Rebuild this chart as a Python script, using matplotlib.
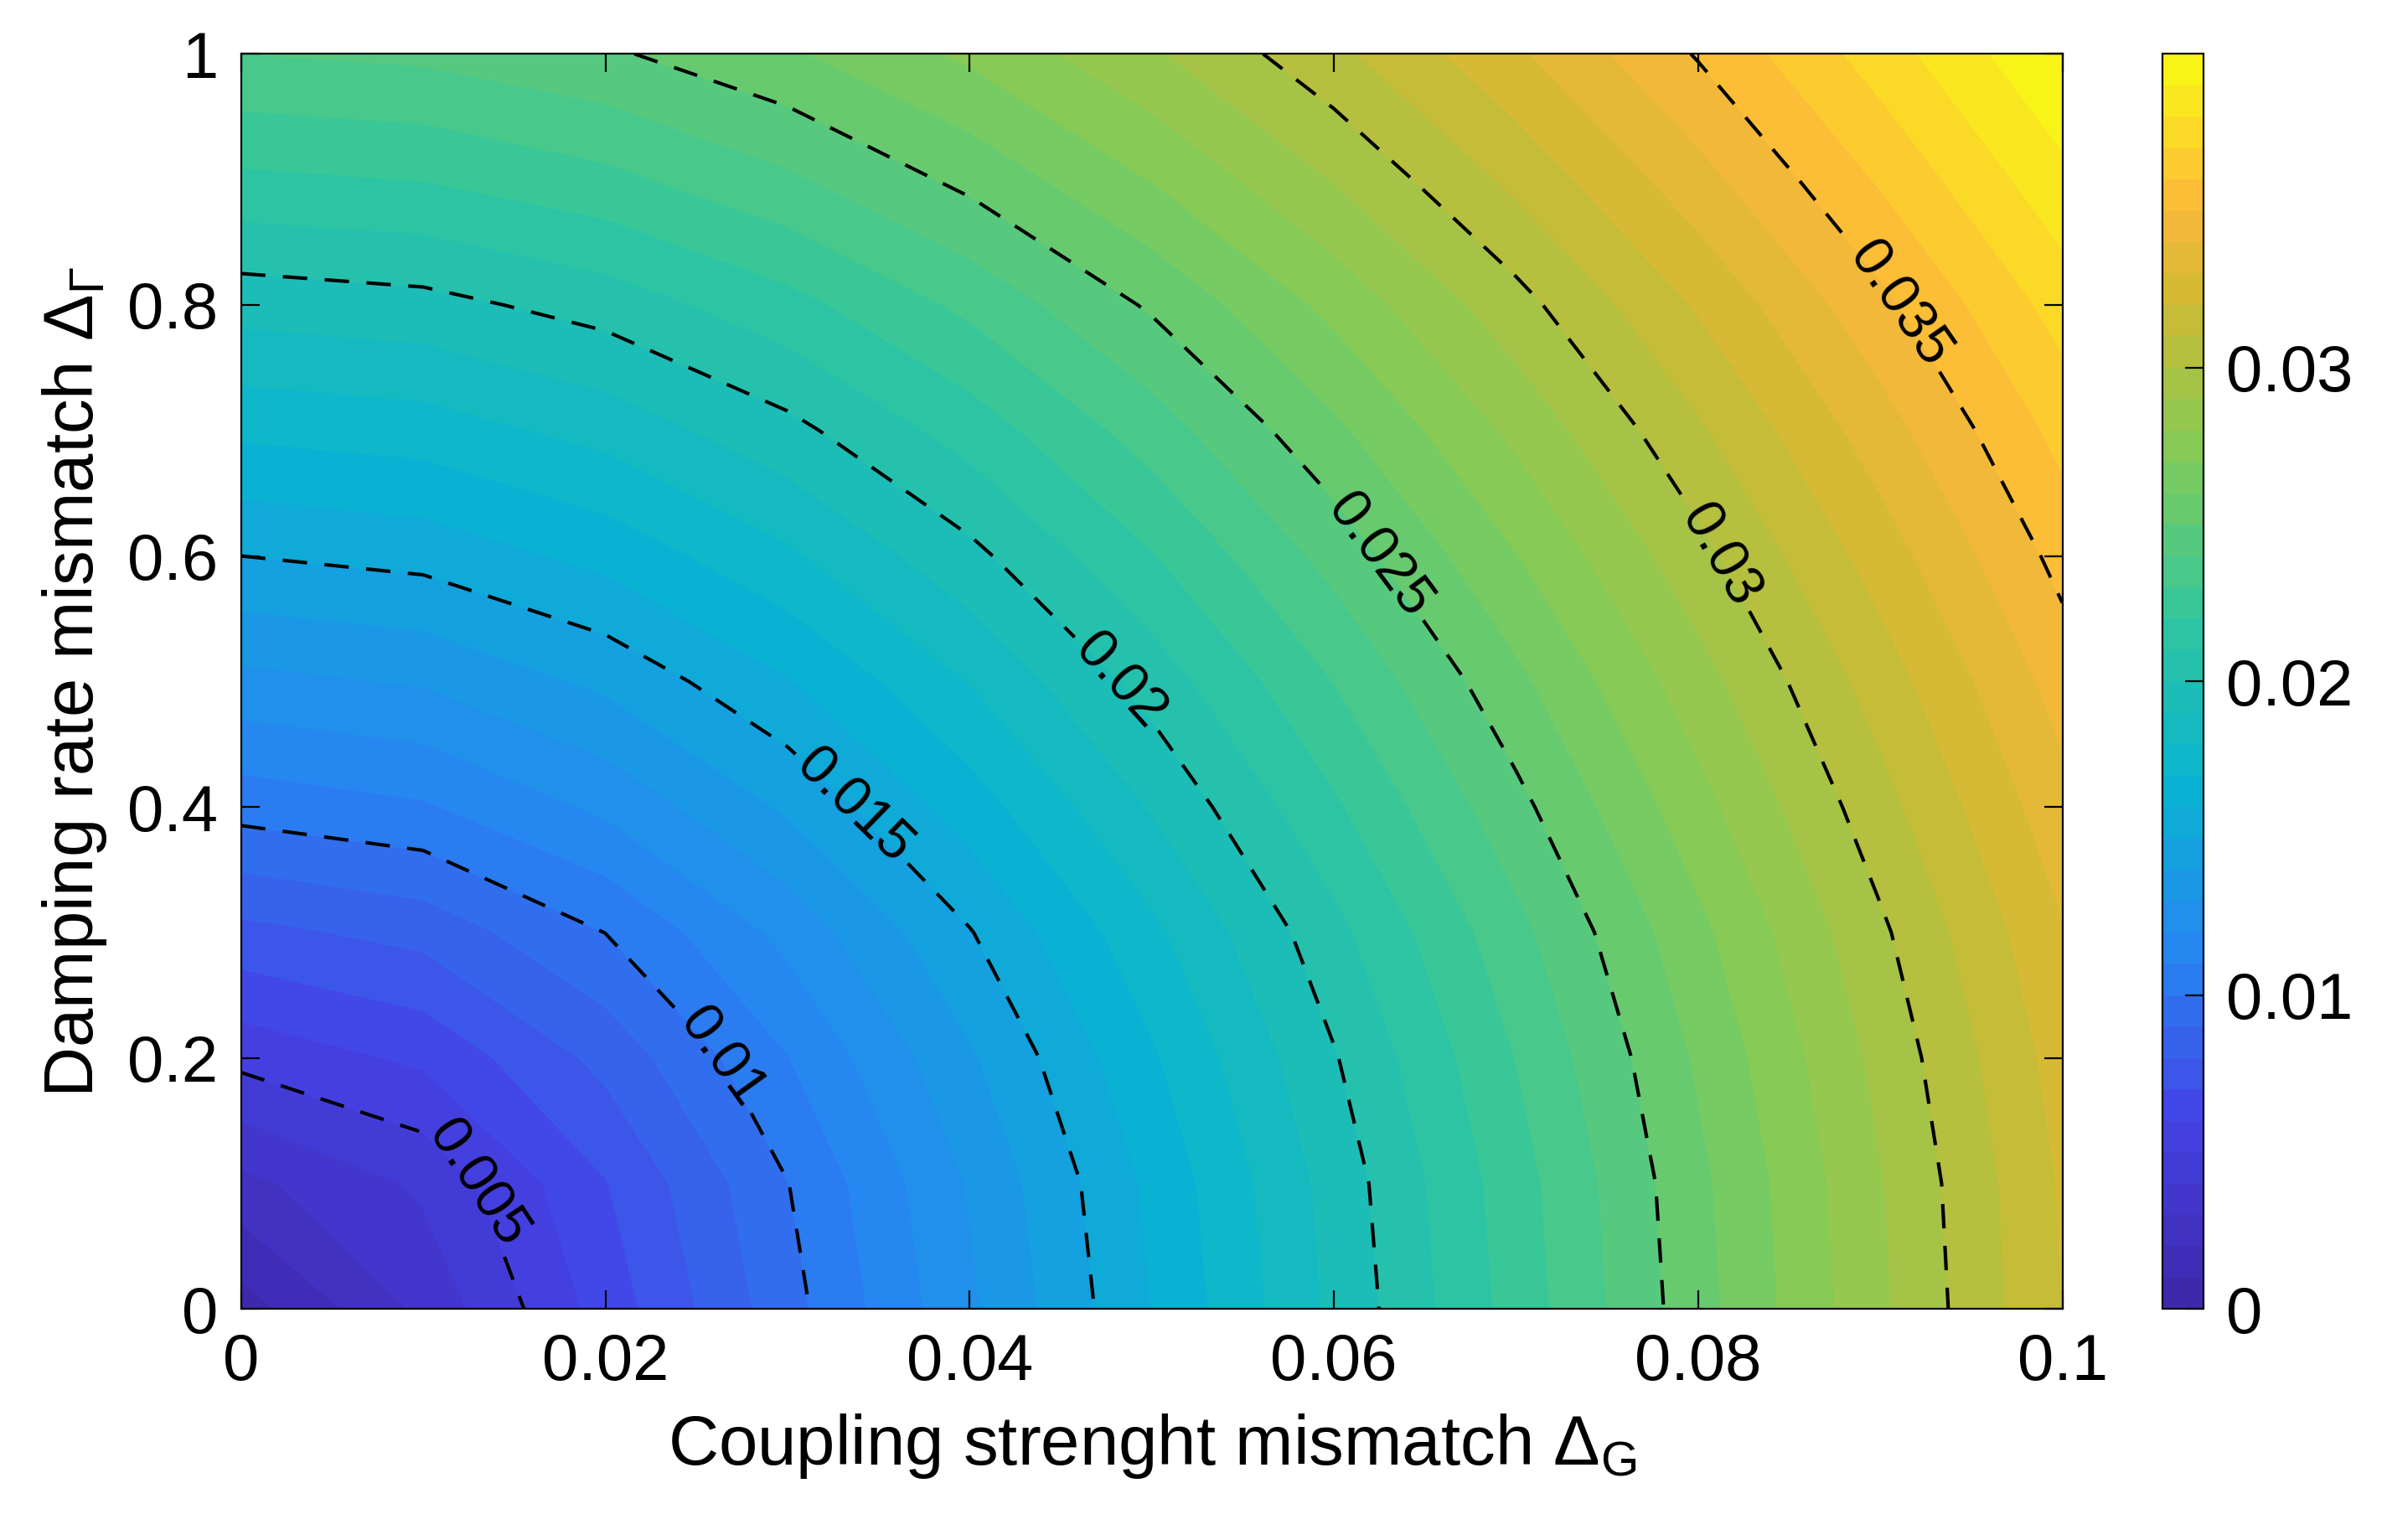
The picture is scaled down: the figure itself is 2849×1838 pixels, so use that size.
import numpy as np
import matplotlib
matplotlib.use("Agg")
import matplotlib.pyplot as plt
from matplotlib.colors import LinearSegmentedColormap

plt.rcParams["font.family"] = "Liberation Sans"
plt.rcParams["mathtext.fontset"] = "custom"
plt.rcParams["mathtext.rm"] = "Liberation Sans"
plt.rcParams["mathtext.it"] = "Liberation Sans"

# Grid coordinates
x_vals = [0.0, 0.01, 0.02, 0.03, 0.04, 0.05, 0.06, 0.07, 0.08, 0.09, 0.1]
y_vals = [0.0, 0.1, 0.2, 0.3, 0.4, 0.5, 0.6, 0.7, 0.8, 0.9, 1.0]
# Field profile read along the bottom edge (y=0) and left edge (x=0)
profile_along_x = [0.0, 0.0032, 0.0064, 0.0096, 0.0128, 0.016, 0.0192, 0.0224, 0.0256, 0.0288, 0.032]
profile_along_y = [0.0005, 0.0027, 0.0053, 0.0077, 0.0104, 0.0127, 0.015, 0.0172, 0.0194, 0.0218, 0.0240]
contour_levels = [0.005, 0.01, 0.015, 0.02, 0.025, 0.03, 0.035]
cbar_ticks = [0, 0.01, 0.02, 0.03]

X, Y = np.meshgrid(x_vals, y_vals)
PX, PY = np.meshgrid(profile_along_x, profile_along_y)
Z = np.hypot(PX, PY)

parula = LinearSegmentedColormap.from_list("parula", [
    (0.0, (0.2422, 0.1504, 0.6603)), (0.15, (0.2700, 0.2600, 0.9000)),
    (0.28, (0.1540, 0.5202, 0.9518)), (0.42, (0.0297, 0.7082, 0.8163)),
    (0.55, (0.1938, 0.7758, 0.6251)), (0.68, (0.5044, 0.7993, 0.3480)),
    (0.80, (0.8000, 0.7300, 0.2000)), (0.88, (0.9900, 0.7200, 0.2300)),
    (1.0, (0.9769, 0.9839, 0.0805))])

fig = plt.figure(figsize=(14.245, 9.19), dpi=200)
ax = fig.add_axes([0.101, 0.15, 0.763, 0.815])
cax = fig.add_axes([0.906, 0.15, 0.017, 0.815])

cf = ax.contourf(X, Y, Z, levels=np.linspace(0, Z.max(), 41), cmap=parula)
cs = ax.contour(X, Y, Z, levels=contour_levels, colors="k", linewidths=1.5)
for c in cs.collections if hasattr(cs, "collections") else []:
    c.set_dashes([(0, (7, 5))])
cs.set_linestyle((0, (7, 5)))
ax.clabel(cs, fmt=lambda v: f"{v:g}", fontsize=24, inline=True, inline_spacing=10)

ax.set_xlim(0, 0.1)
ax.set_ylim(0, 1)
ax.set_xticks(x_vals[::2])
ax.set_xticklabels([f"{v:g}" for v in x_vals[::2]])
ax.set_yticks(y_vals[::2])
ax.set_yticklabels([f"{v:g}" for v in y_vals[::2]])
ax.tick_params(direction="in", labelsize=28, length=8, pad=10, top=True, right=True)
ax.set_xlabel(r"Coupling strenght mismatch $\Delta_G$", fontsize=30, labelpad=8)
ax.set_ylabel(r"Damping rate mismatch $\Delta_\Gamma$", fontsize=30, labelpad=8)

cb = fig.colorbar(cf, cax=cax, ticks=cbar_ticks)
cb.ax.set_yticklabels([f"{v:g}" for v in cbar_ticks])
cb.ax.tick_params(direction="in", labelsize=28, length=8, pad=10)
cb.outline.set_linewidth(0.8)

fig.savefig("out.png", dpi=200)
